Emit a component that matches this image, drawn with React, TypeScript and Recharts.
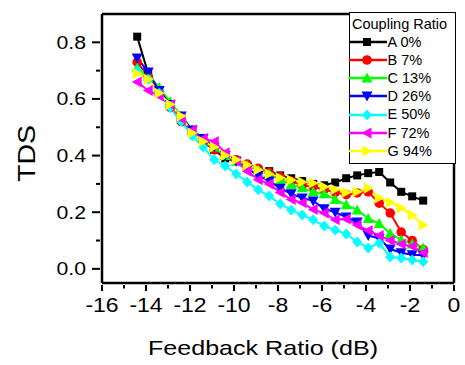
import React from "react";
import { LineChart, Line, XAxis, YAxis, ReferenceLine, Legend } from "recharts";

// feedback ratio (dB) for every measurement point
const feedbackDb = [
  -14.4, -13.9, -13.4, -12.9, -12.4, -11.9, -11.4, -10.9, -10.4, -9.9, -9.4, -8.9, -8.4, -7.9,
  -7.4, -6.9, -6.4, -5.9, -5.4, -4.9, -4.4, -3.9, -3.4, -2.9, -2.4, -1.9, -1.4,
];

// TDS per coupling ratio
const tdsA = [0.82, 0.69, 0.63, 0.58, 0.53, 0.49, 0.45, 0.42, 0.39, 0.38, 0.365, 0.35, 0.345, 0.33, 0.32, 0.31, 0.3, 0.295, 0.305, 0.32, 0.33, 0.338, 0.342, 0.305, 0.272, 0.256, 0.241];
const tdsB = [0.73, 0.68, 0.62, 0.57, 0.52, 0.48, 0.45, 0.42, 0.4, 0.385, 0.37, 0.355, 0.34, 0.325, 0.31, 0.295, 0.29, 0.28, 0.27, 0.262, 0.268, 0.272, 0.232, 0.197, 0.13, 0.1, 0.068];
const tdsC = [0.71, 0.68, 0.64, 0.59, 0.54, 0.49, 0.46, 0.43, 0.4, 0.38, 0.365, 0.35, 0.335, 0.315, 0.298, 0.286, 0.272, 0.265, 0.245, 0.226, 0.208, 0.178, 0.16, 0.125, 0.102, 0.088, 0.074];
const tdsD = [0.745, 0.695, 0.63, 0.58, 0.54, 0.49, 0.46, 0.43, 0.4, 0.38, 0.355, 0.33, 0.31, 0.285, 0.265, 0.25, 0.24, 0.212, 0.2, 0.183, 0.165, 0.118, 0.107, 0.07, 0.057, 0.05, 0.048];
const tdsE = [0.7, 0.67, 0.62, 0.57, 0.52, 0.47, 0.43, 0.385, 0.363, 0.335, 0.307, 0.279, 0.257, 0.229, 0.208, 0.19, 0.173, 0.151, 0.137, 0.123, 0.095, 0.074, 0.091, 0.042, 0.038, 0.031, 0.025];
const tdsF = [0.66, 0.63, 0.61, 0.58, 0.53, 0.49, 0.46, 0.45, 0.41, 0.38, 0.345, 0.315, 0.3, 0.27, 0.245, 0.233, 0.21, 0.197, 0.173, 0.176, 0.155, 0.135, 0.118, 0.1, 0.088, 0.08, 0.057];
const tdsG = [0.69, 0.67, 0.62, 0.58, 0.54, 0.48, 0.45, 0.43, 0.4, 0.385, 0.367, 0.35, 0.335, 0.322, 0.314, 0.307, 0.303, 0.29, 0.28, 0.27, 0.272, 0.285, 0.25, 0.235, 0.215, 0.19, 0.155];

const xTicks = [-16, -15, -14, -13, -12, -11, -10, -9, -8, -7, -6, -5, -4, -3, -2, -1, 0];
const yTicks = [0, 0.1, 0.2, 0.3, 0.4, 0.5, 0.6, 0.7, 0.8];

const series = [
  { key: "A", label: "A 0%", color: "#000000", shape: "square", values: tdsA },
  { key: "B", label: "B 7%", color: "#ff0000", shape: "circle", values: tdsB },
  { key: "C", label: "C 13%", color: "#00ff00", shape: "up", values: tdsC },
  { key: "D", label: "D 26%", color: "#0000ff", shape: "down", values: tdsD },
  { key: "E", label: "E 50%", color: "#00ffff", shape: "diamond", values: tdsE },
  { key: "F", label: "F 72%", color: "#ff00ff", shape: "left", values: tdsF },
  { key: "G", label: "G 94%", color: "#ffff00", shape: "right", values: tdsG },
];

const data = feedbackDb.map((x, i) => {
  const row: Record<string, number> = { x };
  series.forEach((s) => (row[s.key] = s.values[i]));
  return row;
});

const FONT = "Arial, Helvetica, sans-serif";

function Marker({ shape, color, cx, cy }: { shape: string; color: string; cx: number; cy: number }) {
  if (cx == null || cy == null) return null;
  const r = 5.5;
  switch (shape) {
    case "square":
      return <rect x={cx - 4} y={cy - 4} width={8} height={8} fill={color} />;
    case "circle":
      return <circle cx={cx} cy={cy} r={4.8} fill={color} />;
    case "up":
      return <polygon points={`${cx},${cy - r} ${cx - r},${cy + 4.5} ${cx + r},${cy + 4.5}`} fill={color} />;
    case "down":
      return <polygon points={`${cx},${cy + r} ${cx - r},${cy - 4.5} ${cx + r},${cy - 4.5}`} fill={color} />;
    case "diamond":
      return <polygon points={`${cx},${cy - r} ${cx + 5},${cy} ${cx},${cy + r} ${cx - 5},${cy}`} fill={color} />;
    case "left":
      return <polygon points={`${cx - r},${cy} ${cx + 4.5},${cy - r} ${cx + 4.5},${cy + r}`} fill={color} />;
    default:
      return <polygon points={`${cx + r},${cy} ${cx - 4.5},${cy - r} ${cx - 4.5},${cy + r}`} fill={color} />;
  }
}

function XTick({ x, y, payload }: any) {
  const major = payload.value % 2 === 0;
  return (
    <g>
      <line x1={x} x2={x} y1={y} y2={y + (major ? 6 : 3.5)} stroke="#000" strokeWidth={2} />
      {major && (
        <text
          transform={`translate(${x},${y + 27}) scale(1.15,1)`}
          textAnchor="middle"
          fontSize={20}
          fontFamily={FONT}
          fill="#000"
        >
          {payload.value}
        </text>
      )}
    </g>
  );
}

function YTick({ x, y, payload }: any) {
  const major = Math.round(payload.value * 10) % 2 === 0;
  return (
    <g>
      <line x1={x} x2={x - (major ? 8 : 4)} y1={y} y2={y} stroke="#000" strokeWidth={2} />
      {major && (
        <text
          transform={`translate(${x - 14},${y + 6.5}) scale(1.18,1)`}
          textAnchor="end"
          fontSize={18}
          fontFamily={FONT}
          fill="#000"
        >
          {payload.value.toFixed(1)}
        </text>
      )}
    </g>
  );
}

function XTitle({ viewBox }: any) {
  const cx = viewBox.x + viewBox.width / 2 - 15;
  return (
    <text
      x={cx}
      y={viewBox.y + 72}
      textAnchor="middle"
      fontSize={21}
      fontFamily={FONT}
      textLength={230}
      lengthAdjust="spacingAndGlyphs"
      fill="#000"
    >
      Feedback Ratio (dB)
    </text>
  );
}

function YTitle({ viewBox }: any) {
  const cx = viewBox.x + 35;
  const cy = viewBox.y + viewBox.height / 2 + 5;
  return (
    <text
      x={cx}
      y={cy}
      transform={`rotate(-90, ${cx}, ${cy})`}
      textAnchor="middle"
      fontSize={24}
      fontFamily={FONT}
      textLength={57}
      lengthAdjust="spacingAndGlyphs"
      fill="#000"
    >
      TDS
    </text>
  );
}

function CouplingLegend() {
  return (
    <div
      style={{
        boxSizing: "border-box",
        width: 107,
        height: 152,
        border: "1.5px solid #000",
        background: "#fff",
        fontFamily: FONT,
        fontSize: 14.5,
        lineHeight: "18.1px",
        color: "#000",
        paddingTop: 2,
        textAlign: "left",
      }}
    >
      <div style={{ paddingLeft: 2, whiteSpace: "nowrap" }}>Coupling Ratio</div>
      {series.map((s) => (
        <div key={s.key} style={{ display: "flex", alignItems: "center", height: 18.1, whiteSpace: "nowrap" }}>
          <svg width={38} height={14} style={{ display: "block", marginLeft: -1.5, flex: "none" }}>
            <line x1={0} x2={38} y1={7} y2={7} stroke={s.color} strokeWidth={2.5} />
            <Marker shape={s.shape} color={s.color} cx={18} cy={7} />
          </svg>
          <span style={{ marginLeft: 1 }}>{s.label}</span>
        </div>
      ))}
    </div>
  );
}

export default function App() {
  return (
    <div style={{ position: "absolute", left: 0, top: 0, background: "#fff" }}>
      <LineChart width={465} height={365} data={data} margin={{ top: 14, right: 11, bottom: 0, left: 0 }}>
        <XAxis
          type="number"
          dataKey="x"
          domain={[-16, 0]}
          ticks={xTicks}
          interval={0}
          height={82}
          tickSize={0}
          tickLine={false}
          tick={<XTick />}
          axisLine={{ stroke: "#000", strokeWidth: 2.5 }}
          label={<XTitle />}
        />
        <YAxis
          type="number"
          domain={[-0.05, 0.9]}
          allowDataOverflow
          ticks={yTicks}
          interval={0}
          width={102}
          tickSize={0}
          tickLine={false}
          tick={<YTick />}
          axisLine={{ stroke: "#000", strokeWidth: 2.5 }}
          label={<YTitle />}
        />
        <ReferenceLine y={0.9} stroke="#000" strokeWidth={2.5} />
        <ReferenceLine x={0} stroke="#000" strokeWidth={2.5} />
        {series.map((s) => (
          <Line
            key={s.key}
            dataKey={s.key}
            stroke={s.color}
            strokeWidth={2}
            isAnimationActive={false}
            dot={(p: any) => (
              <Marker key={`${s.key}-${p.index}`} shape={s.shape} color={s.color} cx={p.cx} cy={p.cy} />
            )}
            activeDot={false}
          />
        ))}
        <Legend
          layout="vertical"
          align="center"
          verticalAlign="middle"
          content={() => <CouplingLegend />}
          wrapperStyle={{ left: 349, top: 12, width: 107, height: 152 }}
        />
      </LineChart>
    </div>
  );
}
